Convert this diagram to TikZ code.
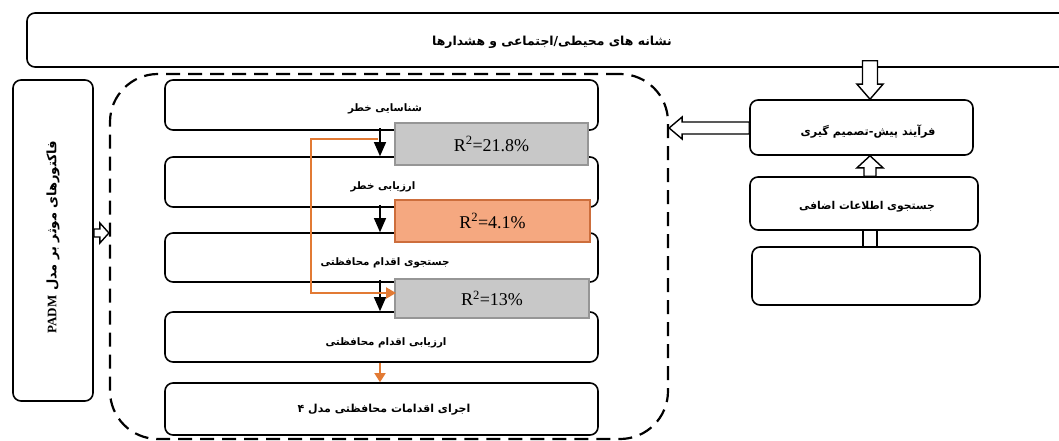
\documentclass[tikz,border=0pt]{standalone}
\usepackage{fontspec}
\setmainfont{Liberation Serif}
\newfontfamily\fa[Script=Arabic]{DejaVu Sans}
\TeXXeTstate=1
\usetikzlibrary{calc,arrows.meta}
\definecolor{rgray}{RGB}{200,200,200}
\definecolor{rgrayb}{RGB}{150,150,150}
\definecolor{rorange}{RGB}{245,168,128}
\definecolor{rorangeb}{RGB}{205,110,60}
\definecolor{oline}{RGB}{226,122,52}
\tikzset{
  box/.style={draw, line width=1.6pt, rounded corners=8pt, fill=white, inner sep=0pt},
  rbox/.style={draw=rgrayb, fill=rgray, line width=1.4pt, inner sep=0pt, font=\fontsize{18}{20}\selectfont},
  obox/.style={draw=rorangeb, fill=rorange, line width=1.4pt, inner sep=0pt, font=\fontsize{18}{20}\selectfont},
  fatxt/.style={font=\fa\bfseries\fontsize{10.3}{12}\selectfont, inner sep=0pt},
  hollow/.style={draw, line width=1.4pt, fill=white, line join=miter},
  downarr/.style={line width=1.1pt, -{Triangle[width=12pt,length=14pt]}},
  container/.style={draw, line width=2.2pt, dash pattern=on 14pt off 8pt, rounded corners=48pt, inner sep=0pt}
}
% start, end, shaft half width, head half width, head length
\newcommand\hollowarrowx[5]{%
  \coordinate (hb) at ($(#2)!#5!(#1)$);
  \draw[hollow] ($(#1)!#3!90:(#2)$) -- ($(hb)!#3!90:(#2)$) -- ($(hb)!#4!90:(#2)$) -- (#2)
    -- ($(hb)!#4!-90:(#2)$) -- ($(hb)!#3!-90:(#2)$) -- ($(#1)!#3!-90:(#2)$) -- cycle;
}
\begin{document}
\begin{tikzpicture}[x=1pt,y=-1pt]
\useasboundingbox (0,0) rectangle (1059,441);
\fill[white] (0,0) rectangle (1059,441);

% top box
\node[box, minimum width=1053pt, minimum height=54pt] (T) at (553.5,40) {};
\node[fatxt, font=\fa\bfseries\fontsize{12.4}{14}\selectfont] (Tt) at (552,42) {\beginR نشانه های محیطی/اجتماعی و هشدارها\endR};

% PADM box
\node[box, minimum width=80pt, minimum height=321pt] (P) at (53,240.5) {};
\node[fatxt, font=\fa\bfseries\fontsize{13}{15}\selectfont, rotate=90] (Pt) at (53,237) {\beginR فاکتورهای موثر بر مدل {\rmfamily\bfseries\beginL PADM\endL}\endR};

% dashed container
\node[container, minimum width=558pt, minimum height=365pt] (D) at (389,256.5) {};

% inner boxes
\node[box, minimum width=433pt, minimum height=50pt] (b1) at (381.5,105) {};
\node[box, minimum width=433pt, minimum height=50pt] (b2) at (381.5,182) {};
\node[box, minimum width=433pt, minimum height=49pt] (b3) at (381.5,257.5) {};
\node[box, minimum width=433pt, minimum height=50pt] (b4) at (381.5,337) {};
\node[box, minimum width=433pt, minimum height=52pt] (b5) at (381.5,409) {};

\node[fatxt] (t1) at (385,109) {\beginR شناسایی خطر\endR};
\node[fatxt] (t2) at (383,187) {\beginR ارزیابی خطر\endR};
\node[fatxt] (t3) at (385,263) {\beginR جستجوی اقدام محافظتی\endR};
\node[fatxt] (t4) at (386,343) {\beginR ارزیابی اقدام محافظتی\endR};
\node[fatxt, font=\fa\bfseries\fontsize{11}{13}\selectfont] (t5) at (384,410) {\beginR اجرای اقدامات محافظتی مدل ۴\endR};

% R^2 boxes
\node[rbox, minimum width=193pt, minimum height=42pt] (r1) at (491.5,144) {R\textsuperscript{2}=21.8\%};
\node[obox, minimum width=195pt, minimum height=42pt] (r2) at (492.5,221) {R\textsuperscript{2}=4.1\%};
\node[rbox, minimum width=194pt, minimum height=39pt] (r3) at (492,298.5) {R\textsuperscript{2}=13\%};

% black down arrows
\coordinate (ax) at (380,0);
\draw[downarr] ($(ax |- b1.south)+(0,-3)$) -- (ax |- b2.north);
\draw[downarr] ($(ax |- b2.south)+(0,-3)$) -- (ax |- b3.north);
\draw[downarr] ($(ax |- b3.south)+(0,-3)$) -- (ax |- b4.north);
\draw[line width=1.6pt, oline, -{Triangle[width=11pt,length=9pt]}] (ax |- b4.south) -- (ax |- b5.north);

% orange feedback connector
\coordinate (o1) at (378,139);
\coordinate (oe) at (396,293);
\draw[oline, line width=2.2pt, -{Triangle[width=11pt,length=10pt]}] (o1) -- (311,139) |- (oe);

% right column
\node[box, minimum width=223pt, minimum height=55pt] (A) at (861.5,127.5) {};
\node[fatxt, font=\fa\bfseries\fontsize{11.2}{13}\selectfont] (At) at (868,132) {\beginR فرآیند پیش-تصمیم گیری\endR};
\node[box, minimum width=228pt, minimum height=53pt] (B) at (864,203.5) {};
\node[fatxt, font=\fa\bfseries\fontsize{10.8}{13}\selectfont] (Bt) at (867,207) {\beginR جستجوی اطلاعات اضافی\endR};
\node[box, minimum width=228pt, minimum height=58pt] (C) at (866,276) {};

% hollow arrows
\coordinate (hx) at (870,0);
\coordinate (ts) at ($(hx |- T.south)+(0,-7)$);
\hollowarrowx{ts}{hx |- A.north}{7.5pt}{13pt}{15pt}
\hollowarrowx{hx |- B.north}{hx |- A.south}{6pt}{13pt}{12pt}
\draw[line width=1.4pt] ($(hx |- B.south)+(-7,0)$) -- ($(hx |- C.north)+(-7,0)$);
\draw[line width=1.4pt] ($(hx |- B.south)+(7,0)$) -- ($(hx |- C.north)+(7,0)$);
\coordinate (ay) at (0,128);
\hollowarrowx{A.west |- ay}{D.east |- ay}{6pt}{11pt}{13pt}
\coordinate (py) at (0,233);
\hollowarrowx{P.east |- py}{D.west |- py}{4pt}{10pt}{9pt}
\end{tikzpicture}
\end{document}
